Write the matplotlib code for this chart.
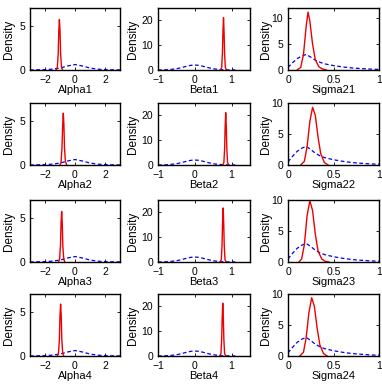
import numpy as np
import matplotlib.pyplot as plt

plt.rcParams['font.family'] = ['Liberation Sans', 'DejaVu Sans']
plt.rcParams['font.size'] = 7

# prior densities (blue dashed), same for every row of a column
alpha_prior_x = [-3, -2.5, -2, -1.5, -1, -0.5, 0, 0.5, 1, 1.5, 2, 2.5, 3]
alpha_prior_y = [0.01, 0.02, 0.04, 0.1, 0.22, 0.45, 0.62, 0.45, 0.22, 0.1, 0.04, 0.02, 0.01]

beta_prior_x = [-1, -0.75, -0.5, -0.35, -0.2, -0.1, 0, 0.1, 0.2, 0.35, 0.5, 0.75, 1, 1.1]
beta_prior_y = [0.02, 0.1, 0.5, 1.0, 1.6, 1.9, 2.0, 1.9, 1.6, 1.0, 0.5, 0.1, 0.02, 0.01]

sigma_prior_x = [0, 0.05, 0.1, 0.15, 0.2, 0.25, 0.3, 0.35, 0.4, 0.5, 0.6, 0.7, 0.8, 0.9, 1.0]
sigma_prior_y = [0.5, 1.4, 2.2, 2.7, 3.0, 2.5, 1.9, 1.5, 1.2, 0.85, 0.6, 0.4, 0.28, 0.18, 0.12]

# posterior densities (red solid)
alpha_post_x = [
    [-1.25, -1.18, -1.12, -1.08, -1.04, -1.0, -0.96, -0.9, -0.83],
    [-1.0, -0.93, -0.87, -0.82, -0.78, -0.74, -0.7, -0.64, -0.55],
    [-1.1, -1.03, -0.97, -0.93, -0.89, -0.85, -0.81, -0.75, -0.68],
    [-1.17, -1.1, -1.04, -1.0, -0.96, -0.92, -0.88, -0.82, -0.75],
]
alpha_post_y = [
    [0, 0.3, 1.8, 4.4, 5.7, 4.5, 1.9, 0.3, 0],
    [0, 0.3, 1.9, 4.6, 5.85, 4.6, 1.9, 0.4, 0],
    [0, 0.3, 1.8, 4.4, 5.7, 4.4, 1.8, 0.3, 0],
    [0, 0.3, 1.9, 4.6, 5.86, 4.6, 1.9, 0.3, 0],
]

beta_post_x = [
    [0.7, 0.73, 0.75, 0.765, 0.78, 0.795, 0.81, 0.83, 0.86],
    [0.76, 0.79, 0.81, 0.825, 0.84, 0.855, 0.87, 0.89, 0.92],
    [0.69, 0.72, 0.74, 0.755, 0.77, 0.785, 0.8, 0.82, 0.85],
    [0.68, 0.71, 0.73, 0.745, 0.76, 0.775, 0.79, 0.81, 0.84],
]
beta_post_y = [
    [0, 1.0, 6.5, 15.5, 21.1, 15.5, 6.5, 1.0, 0],
    [0, 1.0, 6.5, 15.5, 21.1, 15.5, 6.5, 1.0, 0],
    [0, 1.0, 6.7, 16.0, 21.8, 16.0, 6.7, 1.0, 0],
    [0, 1.0, 6.6, 15.7, 21.3, 15.7, 6.6, 1.0, 0],
]

sigma_post_x = [
    [0.1, 0.14, 0.17, 0.2, 0.22, 0.24, 0.27, 0.3, 0.34, 0.38, 0.42],
    [0.14, 0.18, 0.21, 0.24, 0.27, 0.3, 0.33, 0.36, 0.4, 0.44],
    [0.12, 0.15, 0.18, 0.21, 0.24, 0.27, 0.3, 0.33, 0.37, 0.41, 0.45],
    [0.13, 0.17, 0.2, 0.23, 0.26, 0.29, 0.32, 0.35, 0.39, 0.43],
]
sigma_post_y = [
    [0, 0.5, 3.0, 8.5, 11.2, 9.5, 5.0, 2.0, 0.6, 0.2, 0],
    [0, 0.6, 3.0, 7.0, 9.3, 8.0, 4.5, 1.8, 0.4, 0],
    [0, 0.5, 2.8, 7.5, 9.9, 8.3, 4.5, 1.8, 0.5, 0.1, 0],
    [0, 0.6, 3.0, 7.0, 9.4, 8.0, 4.5, 1.8, 0.4, 0],
]

sigma_ylim_top = [12, 10, 10, 10]

fig = plt.figure(figsize=(3.82, 3.84), dpi=100)
W, H = 382.0, 384.0
col_left = [30, 158, 288]
col_width = [90, 92, 91]
ylab_off = [15, 19, 16]   # px from axis left edge to right side of the label
row_top = [8, 103, 200, 294]
row_h = 62

BLUE = '#0000ee'
RED = '#ee0000'


def style(ax, c):
    ax.tick_params(direction='in', top=True, right=True, length=2.5, width=0.6, pad=3.5, labelsize=7.5)
    for s in ax.spines.values():
        s.set_linewidth(1.0)
    ax.set_ylabel('Density', fontsize=8.5)
    ax.yaxis.set_label_coords(-ylab_off[c] / col_width[c], 0.5)


def draw(ax, px, py, qx, qy):
    ax.plot(px, py, '--', color=BLUE, lw=0.9, dashes=(3, 2))
    ax.plot(qx, qy, '-', color=RED, lw=1.0)


for r in range(4):
    axes = []
    for c in range(3):
        ax = fig.add_axes([col_left[c] / W, 1 - (row_top[r] + row_h) / H,
                           col_width[c] / W, row_h / H])
        style(ax, c)
        axes.append(ax)

    ax = axes[0]
    draw(ax, alpha_prior_x, alpha_prior_y, alpha_post_x[r], alpha_post_y[r])
    ax.set_xlim(-3, 3)
    ax.set_ylim(0, 7)
    ax.set_xticks([-2, 0, 2])
    ax.set_yticks([0, 5])
    ax.set_xlabel('Alpha%d' % (r + 1), labelpad=0, fontsize=8)

    ax = axes[1]
    draw(ax, beta_prior_x, beta_prior_y, beta_post_x[r], beta_post_y[r])
    ax.set_xlim(-1, 1.5)
    ax.set_ylim(0, 25)
    ax.set_xticks([-1, 0, 1])
    ax.set_yticks([0, 10, 20])
    ax.set_xlabel('Beta%d' % (r + 1), labelpad=0, fontsize=8)

    ax = axes[2]
    draw(ax, sigma_prior_x, sigma_prior_y, sigma_post_x[r], sigma_post_y[r])
    ax.set_xlim(0, 1)
    ax.set_ylim(0, sigma_ylim_top[r])
    ax.set_xticks([0, 0.5, 1])
    ax.set_xticklabels(['0', '0.5', '1'])
    ax.set_yticks([0, 5, 10])
    ax.set_xlabel('Sigma2%d' % (r + 1), labelpad=0, fontsize=8)

fig.savefig('out.png', dpi=100)
